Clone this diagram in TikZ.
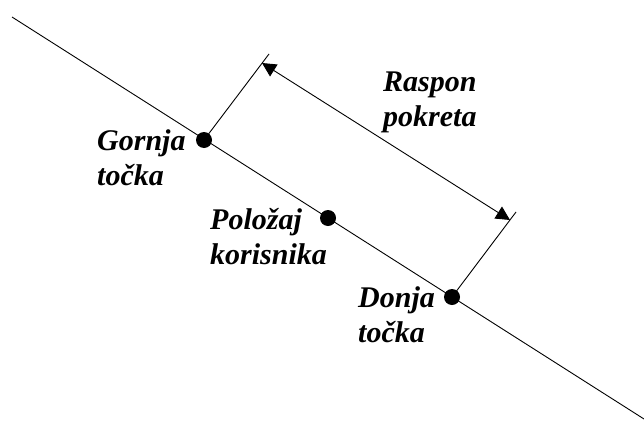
\documentclass[tikz,border=0pt]{standalone}
\usepackage{fontspec}
\setmainfont{Liberation Serif}
\usetikzlibrary{arrows.meta}
\begin{document}
\begin{tikzpicture}[x=1pt,y=-1pt,
  lbl/.style={anchor=base west,inner sep=0pt,align=left,font=\fontsize{30}{35}\selectfont\bfseries\itshape},
  dot/.style={circle,fill=black,inner sep=0pt,minimum size=16pt},
  thin line/.style={line width=0.9pt},
  dimarrow/.style={line width=0.9pt,{Triangle[length=14pt,width=14pt]}-{Triangle[length=14pt,width=14pt]}}]
\useasboundingbox (0,0) rectangle (644,423);
\coordinate (s) at (12,17);
\coordinate (e) at (644,419);
\node[dot] (g) at (204,140) {};
\node[dot] (p) at (328,218) {};
\node[dot] (d) at (452,297) {};
\coordinate (gt) at (269,54);
\coordinate (dt) at (516,212);
\coordinate (at) at (262,63);
\coordinate (ab) at (510,220);
\draw[thin line] (s) -- (e);
\draw[thin line] (g.center) -- (gt);
\draw[thin line] (d.center) -- (dt);
\draw[dimarrow] (at) -- (ab);
\node[lbl] (gl) at (97,185) {Gornja\\točka};
\node[lbl] (pl) at (210,264) {Položaj\\korisnika};
\node[lbl] (dl) at (358,342) {Donja\\točka};
\node[lbl] (rl) at (383,126) {Raspon\\pokreta};
\end{tikzpicture}
\end{document}
